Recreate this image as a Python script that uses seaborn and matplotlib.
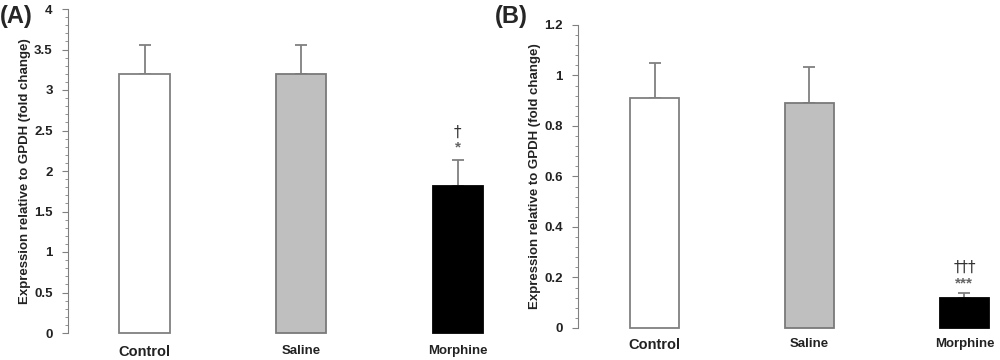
import numpy as np
import pandas as pd
import matplotlib.pyplot as plt
import seaborn as sns
from matplotlib.ticker import AutoMinorLocator, MultipleLocator

# data
groups = ['Control', 'Saline', 'Morphine']
expr_a = [3.2, 3.2, 1.81]
sd_a = [0.35, 0.35, 0.33]
expr_b = [0.91, 0.89, 0.12]
sd_b = [0.14, 0.145, 0.02]
marks_a = ['', '', '*']
daggers_a = ['', '', '†']
marks_b = ['', '', '***']
daggers_b = ['', '', '†††']

fills = ['white', '#bfbfbf', 'black']
edges = ['#808080', '#7a7a7a', 'black']

sns.set_style("white")
plt.rcParams['font.family'] = ['Liberation Sans', 'DejaVu Sans']

fig = plt.figure(figsize=(10, 3.6), dpi=100)
ax_a = fig.add_axes([0.068, 0.075, 0.4365, 0.9])
ax_b = fig.add_axes([0.578, 0.0889, 0.4205, 0.8417])


def draw_panel(ax, vals, sds, stars, dags, ymax, major, minor_n, xlim, star_y, dag_y, xpad):
    df = pd.DataFrame({'group': groups, 'value': vals})
    sns.barplot(data=df, x='group', y='value', hue='group', order=groups,
                palette=dict(zip(groups, fills)), width=0.32, legend=False,
                linewidth=1.3, ax=ax, zorder=3)
    for patch, ec in zip(ax.patches, edges):
        patch.set_edgecolor(ec)
        patch.set_clip_on(False)
    x = np.arange(len(groups))
    ax.errorbar(x, vals, yerr=[np.zeros(len(sds)), sds], fmt='none',
                ecolor='#808080', elinewidth=1.3, capsize=4, capthick=1.3,
                zorder=1)
    for i in range(len(groups)):
        if stars[i]:
            ax.text(x[i], vals[i] + sds[i] + star_y, stars[i], ha='center',
                    va='center', fontsize=11, color='#666666', fontweight='bold')
            ax.text(x[i], vals[i] + sds[i] + dag_y, dags[i], ha='center',
                    va='center', fontsize=11, color='#333333',
                    family=['DejaVu Sans'])
    ax.set_ylim(0, ymax)
    ax.set_xlim(*xlim)
    ax.yaxis.set_major_locator(MultipleLocator(major))
    ax.yaxis.set_minor_locator(AutoMinorLocator(minor_n))
    ax.tick_params(axis='y', which='major', left=True, length=4, width=0.8,
                   color='#808080', labelsize=9.5, pad=7, labelcolor='#222222')
    ax.tick_params(axis='y', which='minor', left=True, length=2, width=0.6,
                   color='#808080')
    ax.tick_params(axis='x', bottom=False, pad=xpad, labelcolor='#222222')
    for lab in ax.get_yticklabels() + ax.get_xticklabels():
        lab.set_fontweight('bold')
    ax.yaxis.set_major_formatter(plt.FuncFormatter(lambda v, p: f'{v:g}'))
    for s in ['top', 'right', 'bottom']:
        ax.spines[s].set_visible(False)
    ax.spines['left'].set_color('#808080')
    ax.spines['left'].set_linewidth(0.8)
    ax.set_xlabel('')
    ax.set_ylabel('Expression relative to GPDH (fold change)', fontsize=9.5,
                  fontweight='bold', labelpad=2, color='#222222')


draw_panel(ax_a, expr_a, sd_a, marks_a, daggers_a, 4, 0.5, 5,
           (-0.489, 2.3), 0.15, 0.34, 5)
draw_panel(ax_b, expr_b, sd_b, marks_b, daggers_b, 1.2, 0.2, 5,
           (-0.494, 2.22), 0.038, 0.1, 4)

for lab in ax_a.get_xticklabels() + ax_b.get_xticklabels():
    lab.set_fontsize(10.5 if lab.get_text() == 'Control' else 9.5)

fig.text(0.0, 0.955, '(A)', fontsize=17, fontweight='bold', va='center')
fig.text(0.495, 0.955, '(B)', fontsize=17, fontweight='bold', va='center')

fig.savefig('out.png', dpi=100)
